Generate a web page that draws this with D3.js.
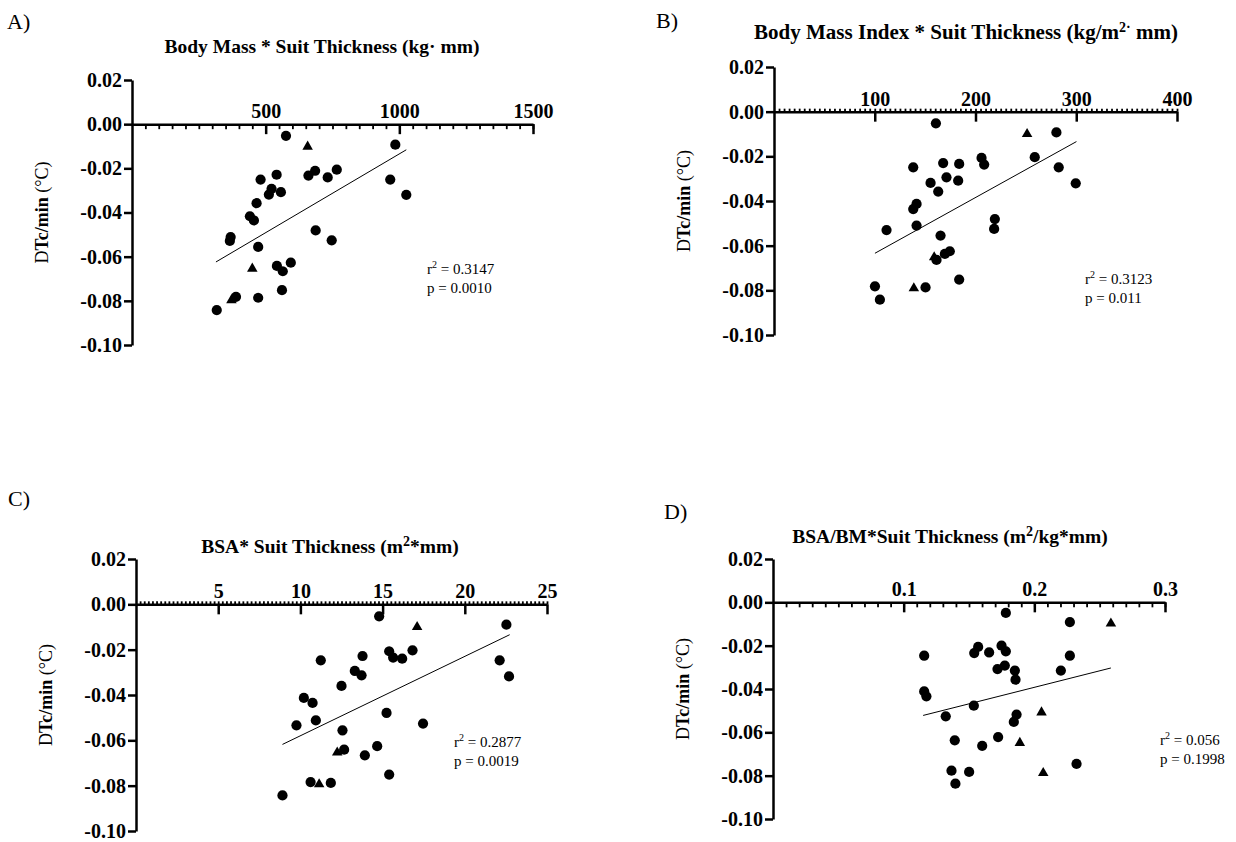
<!DOCTYPE html>
<html lang="en">
<head>
<meta charset="utf-8">
<title></title>
<script src="https://d3js.org/d3.v7.min.js"></script>
<style>
  body { margin: 0; background: #fff; }
  svg text { font-family: "Liberation Serif", "Times New Roman", serif; fill: #000; }
  .axis .tick text { font-weight: bold; font-size: 20px; }
  .axis path, .axis line { stroke: #000; stroke-width: 2.5px; }
  .minor line { stroke: #000; stroke-width: 1.8px; }
  .minor path { display: none; }
  .fit { stroke: #000; stroke-width: 1px; fill: none; }
</style>
</head>
<body>
<script>
// y ticks shared by all four panels
var yTicks = [0.02, 0, -0.02, -0.04, -0.06, -0.08, -0.10];
var yTickLabels = ["0.02", "0.00", "-0.02", "-0.04", "-0.06", "-0.08", "-0.10"];

// A) Body Mass * Suit Thickness
var aX = [576, 657, 985, 481, 541, 522, 512, 557, 466, 441, 456, 660, 685, 732, 766, 966, 1026, 369, 366, 472, 687, 747, 450, 542, 564, 594, 561, 472, 389, 372, 317];
var aY = [-0.0053, -0.0102, -0.0093, -0.0251, -0.0229, -0.0293, -0.0319, -0.0308, -0.0358, -0.0417, -0.0436, -0.0233, -0.0211, -0.0241, -0.0206, -0.0251, -0.0320, -0.0511, -0.0529, -0.0556, -0.0481, -0.0526, -0.0654, -0.0642, -0.0666, -0.0627, -0.0752, -0.0786, -0.0782, -0.0797, -0.0842];
var aTri = [1, 22, 29];
var aXTicks = [500, 1000, 1500];
var aFitX = [314, 1026], aFitY = [-0.0624, -0.0116];
var aStats = ["0.3147", "0.0010"];

// B) Body Mass Index * Suit Thickness
var bX = [160.7, 251.2, 280.3, 258.8, 282.6, 299.5, 138.2, 167.9, 183.8, 206, 208.6, 155.4, 171.2, 182.8, 163, 138.2, 141.5, 141.5, 111.7, 165.3, 219.2, 218.5, 159, 161.3, 169.6, 174.5, 183.8, 150.4, 138.8, 100.2, 105.1];
var bY = [-0.0052, -0.0100, -0.0093, -0.0204, -0.0249, -0.0321, -0.0249, -0.0230, -0.0234, -0.0207, -0.0237, -0.0319, -0.0294, -0.0309, -0.0358, -0.0436, -0.0413, -0.0510, -0.0530, -0.0555, -0.0481, -0.0525, -0.0652, -0.0664, -0.0637, -0.0625, -0.0752, -0.0787, -0.0791, -0.0782, -0.0842];
var bTri = [1, 22, 28];
var bXTicks = [100, 200, 300, 400];
var bFitX = [100.2, 300.2], bFitY = [-0.0634, -0.0134];
var bStats = ["0.3123", "0.011"];

// C) BSA * Suit Thickness
var cX = [14.79, 17.1, 22.53, 11.24, 13.78, 15.4, 15.64, 16.19, 16.82, 22.12, 22.69, 13.31, 13.72, 12.5, 10.21, 10.74, 10.94, 9.76, 12.56, 15.24, 17.46, 12.24, 12.66, 13.92, 14.67, 15.4, 10.62, 11.14, 11.85, 8.91];
var cY = [-0.0053, -0.0100, -0.0090, -0.0247, -0.0228, -0.0207, -0.0235, -0.0240, -0.0203, -0.0247, -0.0318, -0.0294, -0.0313, -0.0360, -0.0413, -0.0435, -0.0512, -0.0534, -0.0556, -0.0479, -0.0526, -0.0654, -0.0641, -0.0666, -0.0626, -0.0751, -0.0784, -0.0794, -0.0788, -0.0843];
var cTri = [1, 21, 27];
var cXTicks = [5, 10, 15, 20, 25];
var cFitX = [8.91, 22.73], cFitY = [-0.0618, -0.0134];
var cStats = ["0.2877", "0.0019"];

// D) BSA/BM * Suit Thickness
var dX = [0.1782, 0.2272, 0.2586, 0.1157, 0.157, 0.154, 0.1654, 0.1749, 0.1782, 0.1718, 0.1774, 0.1851, 0.1856, 0.2203, 0.2272, 0.1157, 0.1174, 0.1537, 0.1322, 0.1864, 0.1843, 0.2055, 0.1391, 0.1601, 0.1723, 0.1889, 0.1366, 0.1501, 0.1396, 0.2068, 0.2323];
var dY = [-0.0049, -0.0091, -0.0098, -0.0246, -0.0206, -0.0234, -0.0231, -0.0200, -0.0226, -0.0308, -0.0292, -0.0315, -0.0357, -0.0315, -0.0246, -0.0411, -0.0434, -0.0477, -0.0526, -0.0518, -0.0552, -0.0508, -0.0637, -0.0662, -0.0622, -0.0649, -0.0777, -0.0783, -0.0837, -0.0788, -0.0746];
var dTri = [2, 21, 25, 29];
var dXTicks = [0.1, 0.2, 0.3];
var dFitX = [0.1149, 0.2586], dFitY = [-0.0522, -0.0303];
var dStats = ["0.056", "0.1998"];

var svg = d3.select("body").append("svg")
  .attr("width", 1236)
  .attr("height", 842);

function drawPanel(p) {
  var x = d3.scaleLinear().domain([0, p.xMax]).range([p.left, p.right]);
  var y = d3.scaleLinear().domain([0.02, -0.10]).range([p.top, p.bottom]);
  var g = svg.append("g");

  // panel letter
  g.append("text").attr("x", p.letterX).attr("y", p.letterY)
    .style("font-size", "22px").text(p.letter);

  // title
  var t = g.append("text").attr("x", p.titleX).attr("y", p.titleY)
    .attr("text-anchor", "middle")
    .style("font-size", p.titleSize + "px").style("font-weight", "bold");
  p.title.forEach(function(part) {
    var s = t.append("tspan").text(part[0]);
    if (part[1] == "sup") s.attr("dy", -7).style("font-size", "14px");
    if (part[1] == "down") s.attr("dy", 7);
  });

  // y axis
  g.append("g").attr("class", "axis")
    .attr("transform", "translate(" + x(0) + ",0)")
    .call(d3.axisLeft(y).tickValues(yTicks).tickSize(8).tickSizeOuter(0).tickPadding(2)
      .tickFormat(function(d, i) { return yTickLabels[i]; }));

  // x axis minor ticks
  var minor = d3.range(p.xMinor, p.xMax + p.xMinor / 2, p.xMinor);
  g.append("g").attr("class", "minor")
    .attr("transform", "translate(0," + y(0) + ")")
    .call(d3.axisTop(x).tickValues(minor).tickSize(p.minorSize).tickFormat(""));

  // x axis at y = 0, ticks down, labels above
  g.append("g").attr("class", "axis")
    .attr("transform", "translate(0," + y(0) + ")")
    .call(d3.axisTop(x).tickValues(p.xTicks).tickSize(-10).tickSizeOuter(0).tickPadding(6)
      .tickFormat(function(d) { return String(d); }));

  // y axis label
  var lab = g.append("text")
    .attr("transform", "translate(" + (x(0) - 84) + "," + ((p.top + p.bottom) / 2) + ") rotate(-90)")
    .attr("text-anchor", "middle")
    .style("font-size", "18px");
  lab.append("tspan").text("D");
  lab.append("tspan").style("font-weight", "bold").text("Tc/min");
  lab.append("tspan").text(" (\u00b0C)");

  // regression line
  g.append("line").attr("class", "fit")
    .attr("x1", x(p.fitX[0])).attr("y1", y(p.fitY[0]))
    .attr("x2", x(p.fitX[1])).attr("y2", y(p.fitY[1]));

  // points, circles and triangles
  var pts = p.xs.map(function(v, i) { return { x: v, y: p.ys[i], tri: p.tri.indexOf(i) >= 0 }; });
  g.selectAll(".pt").data(pts).enter().append("path")
    .attr("class", "pt")
    .attr("transform", function(d) { return "translate(" + x(d.x) + "," + y(d.y) + ")"; })
    .attr("d", function(d) {
      return d.tri ? d3.symbol(d3.symbolTriangle, 48)() : d3.symbol(d3.symbolCircle, 82)();
    })
    .attr("fill", "#000");

  // stats
  var r = g.append("text").attr("x", p.statX).attr("y", p.statY).style("font-size", "15px");
  r.append("tspan").text("r");
  r.append("tspan").attr("dy", -6).style("font-size", "10px").text("2");
  r.append("tspan").attr("dy", 6).text(" = " + p.stats[0]);
  g.append("text").attr("x", p.statX).attr("y", p.statY + 19).style("font-size", "15px")
    .text("p = " + p.stats[1]);
}

drawPanel({
  letter: "A)", letterX: 7, letterY: 29,
  title: [["Body Mass * Suit Thickness (kg\u00b7 mm)"]], titleX: 322, titleY: 53, titleSize: 19.5,
  left: 132, right: 533, top: 80, bottom: 345, xMax: 1500, xTicks: aXTicks,
  xMinor: 50, minorSize: -5,
  xs: aX, ys: aY, tri: aTri, fitX: aFitX, fitY: aFitY,
  stats: aStats, statX: 427, statY: 274
});

drawPanel({
  letter: "B)", letterX: 656, letterY: 28,
  title: [["Body Mass Index * Suit Thickness (kg/m"], ["2\u00b7", "sup"], [" mm)", "down"]], titleX: 966, titleY: 39, titleSize: 21,
  left: 774, right: 1177, top: 67, bottom: 335, xMax: 400, xTicks: bXTicks,
  xMinor: 5, minorSize: 3,
  xs: bX, ys: bY, tri: bTri, fitX: bFitX, fitY: bFitY,
  stats: bStats, statX: 1085, statY: 284
});

drawPanel({
  letter: "C)", letterX: 8, letterY: 506,
  title: [["BSA* Suit Thickness (m"], ["2", "sup"], ["*mm)", "down"]], titleX: 330, titleY: 553, titleSize: 19.5,
  left: 136, right: 547, top: 559, bottom: 831, xMax: 25, xTicks: cXTicks,
  xMinor: 0.25, minorSize: 3,
  xs: cX, ys: cY, tri: cTri, fitX: cFitX, fitY: cFitY,
  stats: cStats, statX: 454, statY: 747
});

drawPanel({
  letter: "D)", letterX: 664, letterY: 519,
  title: [["BSA/BM*Suit Thickness (m"], ["2", "sup"], ["/kg*mm)", "down"]], titleX: 950, titleY: 543, titleSize: 19.5,
  left: 773, right: 1165, top: 559, bottom: 819, xMax: 0.3, xTicks: dXTicks,
  xMinor: 0.01, minorSize: -5,
  xs: dX, ys: dY, tri: dTri, fitX: dFitX, fitY: dFitY,
  stats: dStats, statX: 1160, statY: 745
});
</script>
</body>
</html>
